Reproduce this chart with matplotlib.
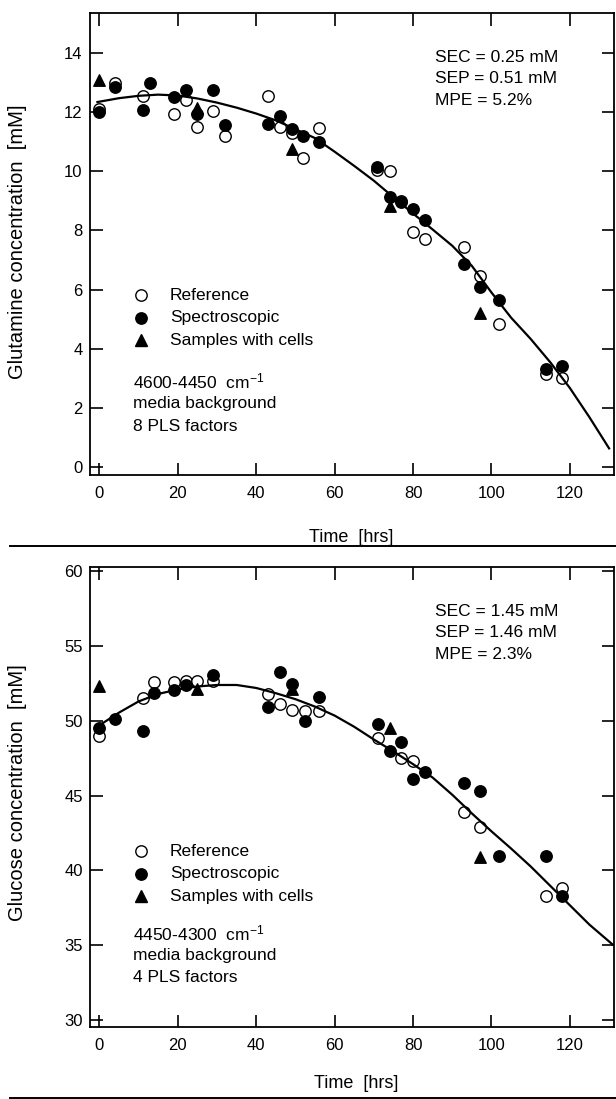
import matplotlib
matplotlib.use("Agg")
import matplotlib.pyplot as plt

plt.rcParams['font.family'] = ['Liberation Sans', 'DejaVu Sans']
plt.rcParams['mathtext.fontset'] = 'custom'
plt.rcParams['mathtext.rm'] = 'Liberation Sans'
plt.rcParams['mathtext.it'] = 'Liberation Sans'

# ---------------- Glutamine data ----------------
gln_ref_t = [0, 4, 11, 19, 22, 25, 29, 32, 43, 46, 49, 52, 56, 70.7, 74, 77, 80, 83, 93, 97, 102, 114, 118]
gln_ref_c = [12.1, 13.0, 12.55, 11.95, 12.4, 11.5, 12.05, 11.2, 12.55, 11.5, 11.3, 10.45, 11.45, 10.05, 10.0, 9.0, 7.95, 7.72, 7.45, 6.45, 4.85, 3.15, 3.0]

gln_spec_t = [0, 4, 11, 13, 19, 22, 25, 29, 32, 43, 46, 49, 52, 56, 70.7, 74, 77, 80, 83, 93, 97, 102, 114, 118]
gln_spec_c = [12.0, 12.85, 12.08, 13.0, 12.5, 12.75, 11.95, 12.75, 11.55, 11.6, 11.87, 11.42, 11.2, 11.0, 10.15, 9.13, 8.96, 8.74, 8.34, 6.86, 6.07, 5.64, 3.33, 3.41]

gln_cell_t = [0, 25, 49, 74, 97]
gln_cell_c = [13.1, 12.15, 10.75, 8.82, 5.2]

gln_fit_t = [-0.5, 5, 10, 15, 20, 25, 30, 35, 40, 45, 50, 55, 60, 65, 70, 75, 80, 85, 90, 95, 100, 105, 110, 115, 120, 125, 130]
gln_fit_c = [12.34, 12.47, 12.55, 12.59, 12.56, 12.46, 12.32, 12.15, 11.95, 11.72, 11.42, 11.12, 10.66, 10.18, 9.68, 9.12, 8.57, 8.03, 7.48, 6.80, 5.90, 5.05, 4.33, 3.54, 2.67, 1.68, 0.63]

# ---------------- Glucose data ----------------
glc_ref_t = [0, 11, 14, 19, 22, 25, 29, 43, 46, 49, 52.5, 56, 71, 77, 80, 93, 97, 114, 118]
glc_ref_g = [49.0, 51.5, 52.6, 52.6, 52.65, 52.65, 52.65, 51.8, 51.15, 50.75, 50.65, 50.65, 48.85, 47.5, 47.3, 43.9, 42.9, 38.3, 38.8]

glc_spec_t = [0, 4, 11, 14, 19, 22, 29, 43, 46, 49, 52.5, 56, 71, 74, 77, 80, 83, 93, 97, 102, 114, 118]
glc_spec_g = [49.5, 50.1, 49.3, 51.85, 52.05, 52.4, 53.1, 50.95, 53.3, 52.45, 50.0, 51.6, 49.8, 47.95, 48.55, 46.1, 46.6, 45.85, 45.3, 40.95, 40.95, 38.25]

glc_cell_t = [0, 25, 49, 74, 97]
glc_cell_g = [52.3, 52.1, 52.1, 49.5, 40.9]

glc_fit_t = [0, 5, 10, 15, 20, 25, 30, 35, 40, 45, 50, 55, 60, 65, 70, 75, 80, 85, 90, 95, 100, 105, 110, 115, 120, 125, 131]
glc_fit_g = [49.7, 50.55, 51.3, 51.8, 52.1, 52.3, 52.4, 52.4, 52.2, 51.85, 51.45, 50.95, 50.35, 49.6, 48.75, 47.95, 47.1, 46.2, 45.05, 43.8, 42.6, 41.45, 40.25, 38.95, 37.65, 36.35, 35.0]

xticks = [0, 20, 40, 60, 80, 100, 120]
gln_yticks = [0, 2, 4, 6, 8, 10, 12, 14]
glc_yticks = [30, 35, 40, 45, 50, 55, 60]

legend_labels = ['Reference', 'Spectroscopic', 'Samples with cells']
gln_info = ['4600-4450  cm$^{-1}$', 'media background', '8 PLS factors']
gln_stats = ['SEC = 0.25 mM', 'SEP = 0.51 mM', 'MPE = 5.2%']
glc_info = ['4450-4300  cm$^{-1}$', 'media background', '4 PLS factors']
glc_stats = ['SEC = 1.45 mM', 'SEP = 1.46 mM', 'MPE = 2.3%']

W, H = 616, 1099
fig = plt.figure(figsize=(W / 100, H / 100), dpi=100)


def fx(px):
    return px / W


def fy(py):
    return 1 - py / H


L, R = 89.6, 614
ax1 = fig.add_axes([fx(L), fy(475), (R - L) / W, (475 - 13) / H])
ax2 = fig.add_axes([fx(L), fy(1027), (R - L) / W, (1027 - 567) / H])

ms = 68
for ax, rt, rv, st, sv, ct, cv, ft, fv, yt, yl in [
    (ax1, gln_ref_t, gln_ref_c, gln_spec_t, gln_spec_c, gln_cell_t, gln_cell_c, gln_fit_t, gln_fit_c, gln_yticks, (-0.27, 15.35)),
    (ax2, glc_ref_t, glc_ref_g, glc_spec_t, glc_spec_g, glc_cell_t, glc_cell_g, glc_fit_t, glc_fit_g, glc_yticks, (29.5, 60.3)),
]:
    ax.scatter(rt, rv, s=ms, facecolor='white', edgecolor='black', linewidth=1.0, zorder=2)
    ax.plot(ft, fv, color='black', lw=1.6, zorder=3)
    ax.scatter(ct, cv, s=ms, marker='^', color='black', zorder=4)
    ax.scatter(st, sv, s=ms, color='black', zorder=5)
    ax.set_xlim(-2.5, 131.25)
    ax.set_ylim(*yl)
    ax.set_xticks(xticks)
    ax.set_yticks(yt)
    ax.tick_params(direction='in', length=9, width=1.2, top=True, right=True, labelsize=12)
    ax.tick_params(axis='x', pad=8)
    ax.tick_params(axis='y', pad=5)
    for sp in ax.spines.values():
        sp.set_linewidth(1.3)

fs = 12.5


def draw_panel_text(y_leg, y_info, info, y_stat, stats):
    ys = [y_leg, y_leg + 22.5, y_leg + 45]
    for y, lab in zip(ys, legend_labels):
        fig.text(fx(170), fy(y), lab, fontsize=fs, va='center')
    fig.lines.append(plt.Line2D([fx(141)], [fy(ys[0])], marker='o', markersize=8.2,
                                markerfacecolor='white', markeredgecolor='black',
                                markeredgewidth=1.0, transform=fig.transFigure))
    fig.lines.append(plt.Line2D([fx(141)], [fy(ys[1])], marker='o', markersize=8.2,
                                color='black', transform=fig.transFigure))
    fig.lines.append(plt.Line2D([fx(141)], [fy(ys[2])], marker='^', markersize=8.2,
                                color='black', transform=fig.transFigure))
    for i, t in enumerate(info):
        fig.text(fx(133), fy(y_info + 22.5 * i), t, fontsize=fs, va='center')
    for i, t in enumerate(stats):
        fig.text(fx(435), fy(y_stat + 21.8 * i), t, fontsize=fs, va='center')


draw_panel_text(295, 381, gln_info, 57, gln_stats)
draw_panel_text(851, 933, glc_info, 611, glc_stats)

fig.text(fx(351), fy(538), 'Time  [hrs]', fontsize=13, ha='center', va='center')
fig.text(fx(356), fy(1084), 'Time  [hrs]', fontsize=13, ha='center', va='center')
fig.text(fx(18), fy(242), 'Glutamine concentration  [mM]', fontsize=14.5, rotation=90, ha='center', va='center')
fig.text(fx(18), fy(793), 'Glucose concentration  [mM]', fontsize=14.5, rotation=90, ha='center', va='center')

fig.lines.append(plt.Line2D([fx(10), fx(616)], [fy(546), fy(546)], color='black', lw=1.4, transform=fig.transFigure))
fig.lines.append(plt.Line2D([fx(10), fx(616)], [fy(1097.5), fy(1097.5)], color='black', lw=1.4, transform=fig.transFigure))

fig.savefig('out.png', dpi=100)
